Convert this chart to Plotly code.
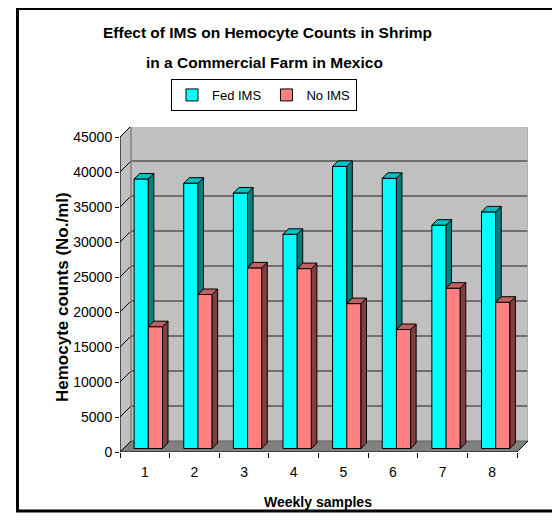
import plotly.graph_objects as go

# ---- data ----
weeks = [1, 2, 3, 4, 5, 6, 7, 8]
week_labels = ["1", "2", "3", "4", "5", "6", "7", "8"]
fed_ims = [38500, 37900, 36500, 30600, 40300, 38600, 31900, 33800]
no_ims = [17400, 22000, 25800, 25700, 20700, 17000, 22900, 20900]
y_ticks = [0, 5000, 10000, 15000, 20000, 25000, 30000, 35000, 40000, 45000]
y_tick_labels = ["0", "5000", "10000", "15000", "20000", "25000", "30000", "35000", "40000", "45000"]
series_names = ["Fed IMS", "No IMS"]

# page has an 8px body margin; figure is sized to fill the rest of the window
OFF = 8
W_PX, H_PX = 560 - OFF, 522 - OFF
FONT = "Liberation Sans, Arial, sans-serif"

# pixel geometry of the pseudo-3D frame (page pixels)
PX_PER_CAT = 49.625
PX_PER_UNIT_Y = 315 / 45000.0
X0, X1 = 0.5, len(weeks) + 0.5
YMAX = y_ticks[-1]
WALL_PX = 11.0
DX = WALL_PX / PX_PER_CAT
DY = WALL_PX / PX_PER_UNIT_Y
BAR_PLANE_PX = 3.5
BX = BAR_PLANE_PX / PX_PER_CAT
BY = BAR_PLANE_PX / PX_PER_UNIT_Y
BAR_W = 14.2 / PX_PER_CAT
BAR_D_PX = 5.5
DDX = BAR_D_PX / PX_PER_CAT
DDY = BAR_D_PX / PX_PER_UNIT_Y

plot_left, plot_right = 120, 528
plot_bottom, plot_top = 452, 127
x_range = [X0, X0 + (plot_right - plot_left) / PX_PER_CAT]
y_range = [0, (plot_bottom - plot_top) / PX_PER_UNIT_Y]


def px(x):
    return (x - OFF) / W_PX


def py(y):
    return 1 - (y - OFF) / H_PX


front_cols = ["#00FFFF", "#FF8080"]
side_cols = ["#008080", "#804040"]
top_cols = ["#00C0C0", "#C06060"]

fig = go.Figure()

# front faces as real bars
for i, (name, vals) in enumerate(zip(series_names, [fed_ims, no_ims])):
    fig.add_trace(go.Bar(
        x=[w + BX for w in weeks], y=vals, base=BY, width=BAR_W,
        offset=-BAR_W if i == 0 else 0,
        name=name, marker=dict(color=front_cols[i], line=dict(color="black", width=1)),
        showlegend=True,
    ))


def poly_trace(xs, ys, fill):
    return go.Scatter(x=xs, y=ys, mode="lines", fill="toself", fillcolor=fill,
                      line=dict(color="black", width=1), showlegend=False,
                      hoverinfo="skip")


# side and top faces (depth effect)
for k, w in enumerate(weeks):
    c = w + BX
    V, h = fed_ims[k], no_ims[k]
    xl, xr = c - BAR_W, c
    lo = BY + h if h < V else BY + V
    fig.add_trace(poly_trace([xr, xr + DDX, xr + DDX, xr, xr],
                             [lo, lo + DDY, BY + V + DDY, BY + V, lo], side_cols[0]))
    fig.add_trace(poly_trace([xl, xr, xr + DDX, xl + DDX, xl],
                             [BY + V, BY + V, BY + V + DDY, BY + V + DDY, BY + V], top_cols[0]))
    xl, xr = c, c + BAR_W
    fig.add_trace(poly_trace([xr, xr + DDX, xr + DDX, xr, xr],
                             [BY, BY + DDY, BY + h + DDY, BY + h, BY], side_cols[1]))
    fig.add_trace(poly_trace([xl, xr, xr + DDX, xl + DDX, xl],
                             [BY + h, BY + h, BY + h + DDY, BY + h + DDY, BY + h], top_cols[1]))

shapes = []
shapes.append(dict(type="rect", xref="x", yref="y", x0=X0 + DX, x1=X1 + DX, y0=DY, y1=YMAX + DY,
                   fillcolor="#C0C0C0", line=dict(width=0), layer="below"))
shapes.append(dict(type="path", xref="x", yref="y",
                   path=f"M{X0},0 L{X0+DX},{DY} L{X0+DX},{YMAX+DY} L{X0},{YMAX} Z",
                   fillcolor="#C0C0C0", line=dict(width=0), layer="below"))
shapes.append(dict(type="path", xref="x", yref="y",
                   path=f"M{X0},0 L{X1},0 L{X1+DX},{DY} L{X0+DX},{DY} Z",
                   fillcolor="#808080", line=dict(width=0), layer="below"))
for v in y_ticks[1:-1]:
    shapes.append(dict(type="line", xref="x", yref="y", x0=X0 + DX, x1=X1 + DX, y0=v + DY, y1=v + DY,
                       line=dict(color="#202020", width=1.2), layer="below"))
for v in y_ticks:
    shapes.append(dict(type="line", xref="x", yref="y", x0=X0, x1=X0 + DX, y0=v, y1=v + DY,
                       line=dict(color="black", width=1), layer="below"))
shapes.append(dict(type="line", xref="x", yref="y", x0=X0 + DX, x1=X1 + DX, y0=YMAX + DY, y1=YMAX + DY,
                   line=dict(color="#808080", width=2), layer="below"))
shapes.append(dict(type="line", xref="x", yref="y", x0=X0 + DX, x1=X0 + DX, y0=DY, y1=YMAX + DY,
                   line=dict(color="#808080", width=1.5), layer="below"))
shapes.append(dict(type="line", xref="x", yref="y", x0=X1 + DX, x1=X1 + DX, y0=DY, y1=YMAX + DY,
                   line=dict(color="#A8A8A8", width=1.5), layer="below"))
shapes.append(dict(type="line", xref="x", yref="y", x0=X0 + DX, x1=X1 + DX, y0=DY, y1=DY,
                   line=dict(color="#606060", width=1), layer="below"))
shapes.append(dict(type="line", xref="x", yref="y", x0=X0, x1=X0, y0=0, y1=YMAX,
                   line=dict(color="black", width=1.2)))
shapes.append(dict(type="line", xref="x", yref="y", x0=X0, x1=X1, y0=0, y1=0,
                   line=dict(color="black", width=1.2)))
shapes.append(dict(type="line", xref="x", yref="y", x0=X1, x1=X1 + DX, y0=0, y1=DY,
                   line=dict(color="black", width=1)))
# outer chart border
shapes.append(dict(type="rect", xref="paper", yref="paper",
                   x0=px(17.5), x1=px(554.5), y0=py(511), y1=py(8.5),
                   line=dict(color="black", width=3), fillcolor="rgba(0,0,0,0)"))


def ann(text, x, y, size, angle=0):
    return dict(text=text, x=px(x), y=py(y), xref="paper", yref="paper", showarrow=False,
                xanchor="center", yanchor="middle", textangle=angle,
                font=dict(size=size, color="black", family=FONT))


annotations = [
    ann("<b>Effect of IMS on Hemocyte Counts in Shrimp</b>", 267, 32, 15.5),
    ann("<b>in a Commercial Farm in Mexico</b>", 264, 63, 15.5),
    ann("<b>Hemocyte counts (No./ml)</b>", 62, 297, 17, -90),
    ann("<b>Weekly samples</b>", 318, 502, 14),
]

fig.update_layout(
    width=W_PX, height=H_PX,
    margin=dict(l=0, r=0, t=0, b=0, autoexpand=False),
    paper_bgcolor="white", plot_bgcolor="white",
    barmode="overlay",
    font=dict(family=FONT, size=14, color="black"),
    shapes=shapes, annotations=annotations,
    legend=dict(orientation="h", x=px(264), y=py(79), xanchor="center", yanchor="top",
                bordercolor="black", borderwidth=1, bgcolor="white",
                font=dict(size=13, family=FONT), itemwidth=30, traceorder="normal"),
    xaxis=dict(domain=[px(plot_left), px(plot_right)], range=x_range,
               tickvals=weeks, ticktext=week_labels, ticks="outside", ticklen=7,
               tickcolor="rgba(0,0,0,0)", showgrid=False, zeroline=False, showline=False,
               minor=dict(tickvals=[w - 0.5 for w in weeks] + [weeks[-1] + 0.5],
                          ticks="outside", ticklen=5, tickcolor="black", showgrid=False),
               tickfont=dict(size=14), fixedrange=True, automargin=False),
    yaxis=dict(domain=[py(plot_bottom), py(plot_top)], range=y_range,
               tickvals=y_ticks, ticktext=y_tick_labels, ticks="outside", ticklen=4,
               tickcolor="black", showgrid=False, zeroline=False, showline=False,
               tickfont=dict(size=14), fixedrange=True, automargin=False),
)

fig.write_html("out.html")
